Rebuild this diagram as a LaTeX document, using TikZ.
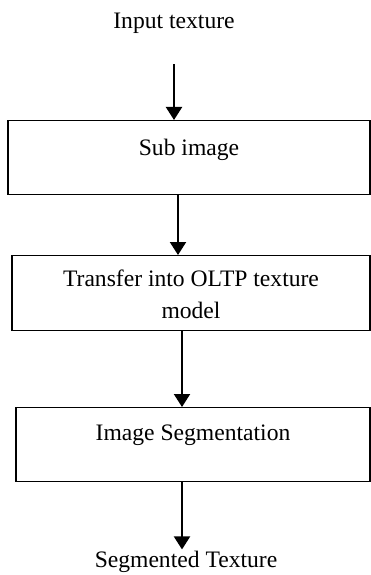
\documentclass[tikz,border=0pt]{standalone}
\usepackage{fontspec}
\setmainfont{Liberation Serif}
\usetikzlibrary{arrows.meta}

\begin{document}
\begin{tikzpicture}[x=1pt,y=-1pt,
        font=\fontsize{23.6}{32}\selectfont,
        text node/.style={inner sep=0pt,anchor=base},
        box node/.style={draw,line width=1.3pt,inner xsep=4pt,inner ysep=0pt,anchor=north,align=center},
        flow/.style={-{Triangle[width=16pt,length=13pt]},line width=2pt}]
        \useasboundingbox (0,0) rectangle (371,575);

        % Define blocks
        \node[text node] (input) at (174,29) {Input texture};
        \node[box node,minimum width=362pt,text height=35pt,text depth=39pt] (sub) at (189,120) {Sub image};
        \node[box node,minimum width=358pt,text height=63pt,text depth=12pt] (transfer) at (191,255) {Transfer into OLTP texture\\model};
        \node[box node,minimum width=354pt,text height=33pt,text depth=41pt] (segment) at (193,407) {Image Segmentation};
        \node[text node] (output) at (186,567) {Segmented Texture};

        % Draw arrows
        \draw[flow] ([yshift=-30pt]input.south) -- (input.south |- sub.north);
        \draw[flow] ([xshift=-11pt]sub.south) -- ([xshift=-13pt]transfer.north);
        \draw[flow] ([xshift=-9pt]transfer.south) -- ([xshift=-11pt]segment.north);
        \draw[flow] ([xshift=-11pt]segment.south) -- ([xshift=-4pt,yshift=1pt]output.north);

\end{tikzpicture}
\end{document}
